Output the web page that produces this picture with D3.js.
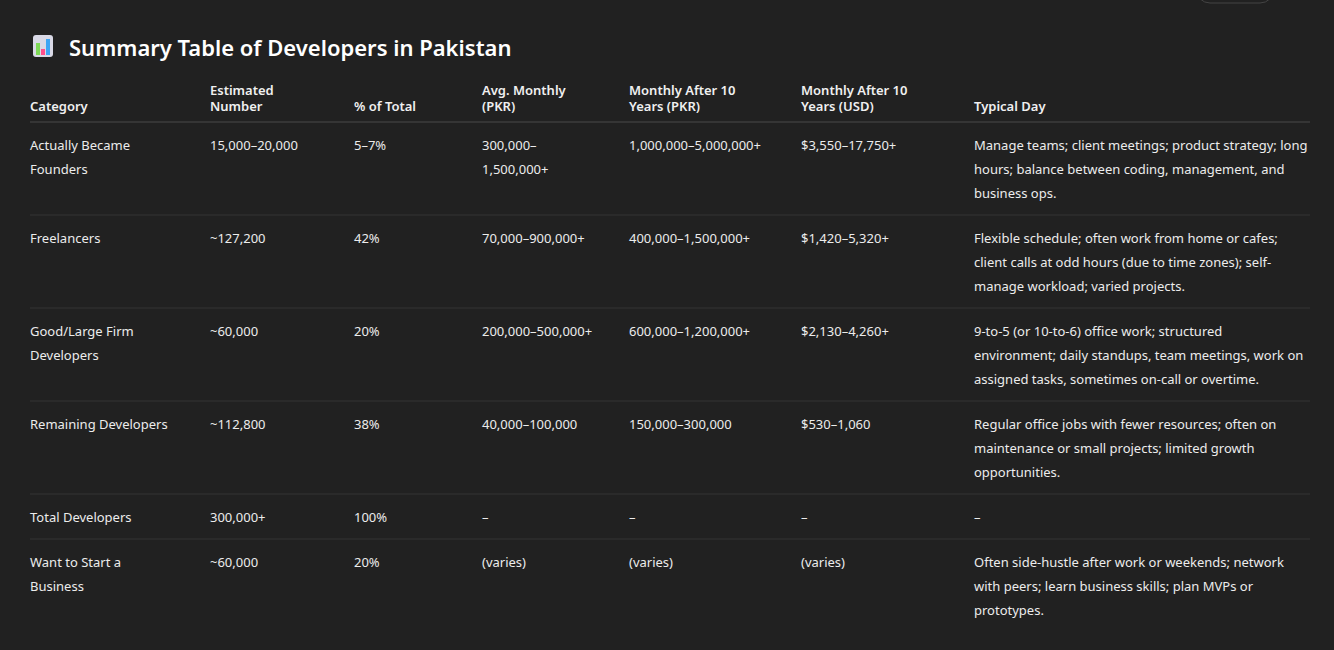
<!DOCTYPE html>
<html><head><meta charset="utf-8">
<script src="https://cdn.jsdelivr.net/npm/d3@7"></script>
<style>
body{margin:0;background:#212121;}
svg{display:block;font-family:"Noto Sans",sans-serif;}
</style></head>
<body><svg id="tbl" width="1334" height="650"></svg>
<script>
var title = "Summary Table of Developers in Pakistan";
var headers = [["Category"],["Estimated","Number"],["% of Total"],["Avg. Monthly","(PKR)"],["Monthly After 10","Years (PKR)"],["Monthly After 10","Years (USD)"],["Typical Day"]];
var categories = [["Actually Became","Founders"],["Freelancers"],["Good/Large Firm","Developers"],["Remaining Developers"],["Total Developers"],["Want to Start a","Business"]];
var estimated = ["15,000–20,000","~127,200","~60,000","~112,800","300,000+","~60,000"];
var percent = ["5–7%","42%","20%","38%","100%","20%"];
var avgMonthly = [["300,000–","1,500,000+"],["70,000–900,000+"],["200,000–500,000+"],["40,000–100,000"],["–"],["(varies)"]];
var after10Pkr = ["1,000,000–5,000,000+","400,000–1,500,000+","600,000–1,200,000+","150,000–300,000","–","(varies)"];
var after10Usd = ["$3,550–17,750+","$1,420–5,320+","$2,130–4,260+","$530–1,060","–","(varies)"];
var typicalDay = [
  ["Manage teams; client meetings; product strategy; long","hours; balance between coding, management, and","business ops."],
  ["Flexible schedule; often work from home or cafes;","client calls at odd hours (due to time zones); self-","manage workload; varied projects."],
  ["9-to-5 (or 10-to-6) office work; structured","environment; daily standups, team meetings, work on","assigned tasks, sometimes on-call or overtime."],
  ["Regular office jobs with fewer resources; often on","maintenance or small projects; limited growth","opportunities."],
  ["–"],
  ["Often side-hustle after work or weekends; network","with peers; learn business skills; plan MVPs or","prototypes."]
];

var svg = d3.select("#tbl");
var colX = [30,210,354,482,629,801,974];
var left = 30, right = 1310, lineH = 24, headerLine = 122;

// top-right button outline peeking in
svg.append("rect").attr("x",1196).attr("y",-30).attr("width",78).attr("height",33).attr("rx",14)
  .attr("fill","none").attr("stroke","#444");

// title icon + title
var icon = svg.append("g").attr("transform","translate(33,35)");
icon.append("rect").attr("width",20).attr("height",22).attr("rx",3).attr("fill","#d9d9e6");
icon.selectAll("rect.b").data([[3,8,"#7ed957"],[8,14,"#ff4f8b"],[13,4,"#3da5f4"]]).enter()
  .append("rect").attr("x",d=>d[0]).attr("y",d=>d[1]).attr("width",4).attr("height",d=>20-d[1]).attr("fill",d=>d[2]);
svg.append("text").attr("x",69).attr("y",56).attr("fill","#ffffff")
  .attr("font-size",22).attr("font-weight",600).text(title);

// header
headers.forEach(function(h,i){
  var t = svg.append("text").attr("fill","#f0f0f0").attr("font-size",13).attr("font-weight",600);
  var y0 = 111 - (h.length-1)*16;
  h.forEach(function(s,k){ t.append("tspan").attr("x",colX[i]).attr("y",y0+k*16).text(s); });
});
svg.append("line").attr("x1",left).attr("x2",right).attr("y1",headerLine).attr("y2",headerLine)
  .attr("stroke","#4a4a4a");

var rows = categories.map(function(c,i){
  return [c,[estimated[i]],[percent[i]],avgMonthly[i],[after10Pkr[i]],[after10Usd[i]],typicalDay[i]];
});
var yTop = headerLine;
rows.forEach(function(r,i){
  var n = d3.max(r,d=>d.length);
  r.forEach(function(cell,j){
    var t = svg.append("text").attr("fill","#ececec").attr("font-size",13);
    cell.forEach(function(s,k){ t.append("tspan").attr("x",colX[j]).attr("y",yTop+28+k*lineH).text(s); });
  });
  yTop += n*lineH + 21;
  if(i < rows.length-1)
    svg.append("line").attr("x1",left).attr("x2",right).attr("y1",yTop).attr("y2",yTop).attr("stroke","#353535");
});
</script></body></html>
